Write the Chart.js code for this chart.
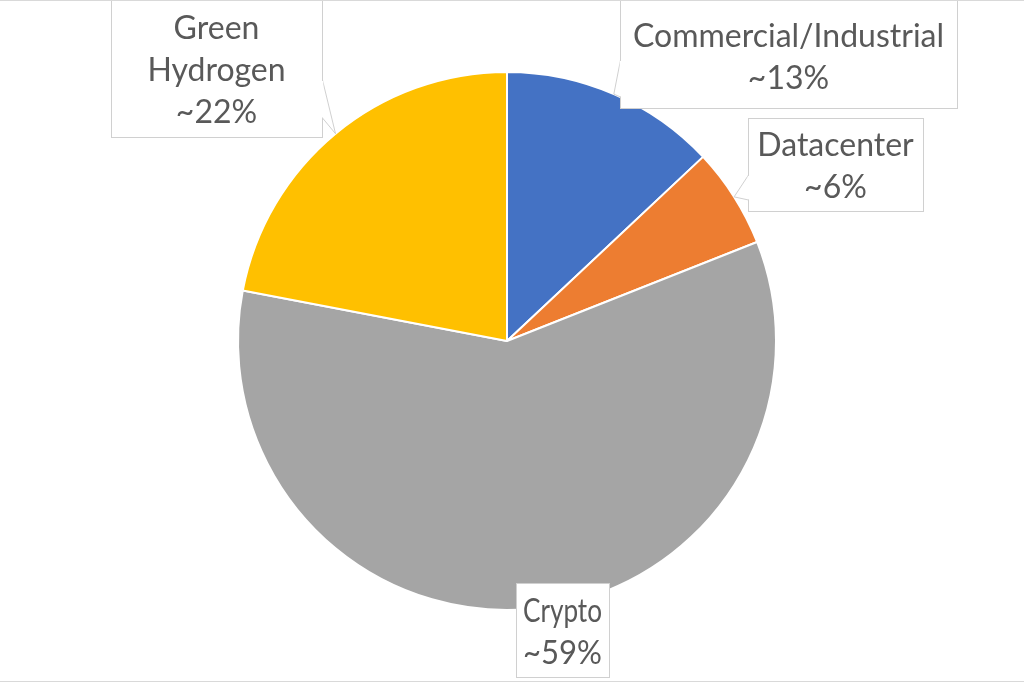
<!DOCTYPE html>
<html>
<head>
<meta charset="utf-8">
<script src="https://cdn.jsdelivr.net/npm/chart.js@4"></script>
<style>
  html, body { margin: 0; padding: 0; background: #fff; }
  #wrap { width: 1024px; height: 683px; position: relative; }
</style>
</head>
<body>
<div id="wrap"><canvas id="pieChart"></canvas></div>
<script>
// chart data
const categories = ['Commercial/Industrial', 'Datacenter', 'Crypto', 'Green Hydrogen'];
const shares = [13, 6, 59, 22];
const sliceColors = ['#4472C4', '#ED7D31', '#A5A5A5', '#FFC000'];

// callout boxes (layout only), one per category
const callouts = [
  { box: [620, -10, 337, 118], textY: 58, lines: ['Commercial/Industrial'], side: 'left', base: [60, 97] },
  { box: [748, 118, 175, 93], textY: 167, lines: ['Datacenter'], side: 'left', base: [175, 200] },
  { box: [516, 583, 93, 94], textY: 633, lines: ['Crypto'], side: null },
  { box: [111, -10, 211, 147], textY: 71, lines: ['Green', 'Hydrogen'], side: 'right', base: [80, 118] }
];

const calloutPlugin = {
  id: 'callouts',
  afterDraw(chart) {
    const ctx = chart.ctx;
    const meta = chart.getDatasetMeta(0);
    ctx.save();
    ctx.lineWidth = 1;
    callouts.forEach((c, i) => {
      const arc = meta.data[i];
      const [bx, by, bw, bh] = c.box;
      // rectangle
      ctx.fillStyle = '#fff';
      ctx.strokeStyle = '#D0D0D0';
      ctx.fillRect(bx, by, bw, bh);
      ctx.strokeRect(bx + 0.5, by + 0.5, bw, bh);
      // tail pointing at the slice mid angle on its outer edge
      if (c.side) {
        const mid = (arc.startAngle + arc.endAngle) / 2;
        const tx = arc.x + Math.cos(mid) * arc.outerRadius;
        const ty = arc.y + Math.sin(mid) * arc.outerRadius;
        const ex = c.side === 'left' ? bx + 0.5 : bx + bw + 0.5;
        ctx.beginPath();
        ctx.moveTo(ex, c.base[0]);
        ctx.lineTo(tx, ty);
        ctx.lineTo(ex, c.base[1]);
        ctx.closePath();
        ctx.fill();
        ctx.beginPath();
        ctx.moveTo(ex, c.base[0]);
        ctx.lineTo(tx, ty);
        ctx.lineTo(ex, c.base[1]);
        ctx.stroke();
        ctx.strokeStyle = '#fff';
        ctx.lineWidth = 1.5;
        ctx.beginPath();
        ctx.moveTo(ex, c.base[0] + 1);
        ctx.lineTo(ex, c.base[1] - 1);
        ctx.stroke();
        ctx.lineWidth = 1;
      }
      // text
      const lines = c.lines.concat(['~' + shares[i] + '%']);
      const lh = 42;
      ctx.fillStyle = '#595959';
      ctx.font = '32px Lato';
      ctx.textAlign = 'center';
      ctx.textBaseline = 'middle';
      const cx = bx + bw / 2;
      lines.forEach((t, k) => {
        ctx.fillText(t, cx, c.textY + (k - (lines.length - 1) / 2) * lh, bw - 14);
      });
    });
    // thin frame lines top and bottom
    ctx.strokeStyle = '#D9D9D9';
    ctx.beginPath();
    ctx.moveTo(0, 0.5);
    ctx.lineTo(1024, 0.5);
    ctx.moveTo(0, 681.5);
    ctx.lineTo(1024, 681.5);
    ctx.stroke();
    ctx.restore();
  }
};

new Chart(document.getElementById('pieChart'), {
  type: 'pie',
  data: {
    labels: categories,
    datasets: [{
      data: shares,
      backgroundColor: sliceColors,
      borderColor: '#fff',
      borderWidth: 2
    }]
  },
  options: {
    responsive: true,
    maintainAspectRatio: false,
    animation: false,
    layout: { padding: { top: 71, bottom: 72, left: 0, right: 10 } },
    plugins: {
      legend: { display: false },
      tooltip: { enabled: false }
    }
  },
  plugins: [calloutPlugin]
});
</script>
</body>
</html>
